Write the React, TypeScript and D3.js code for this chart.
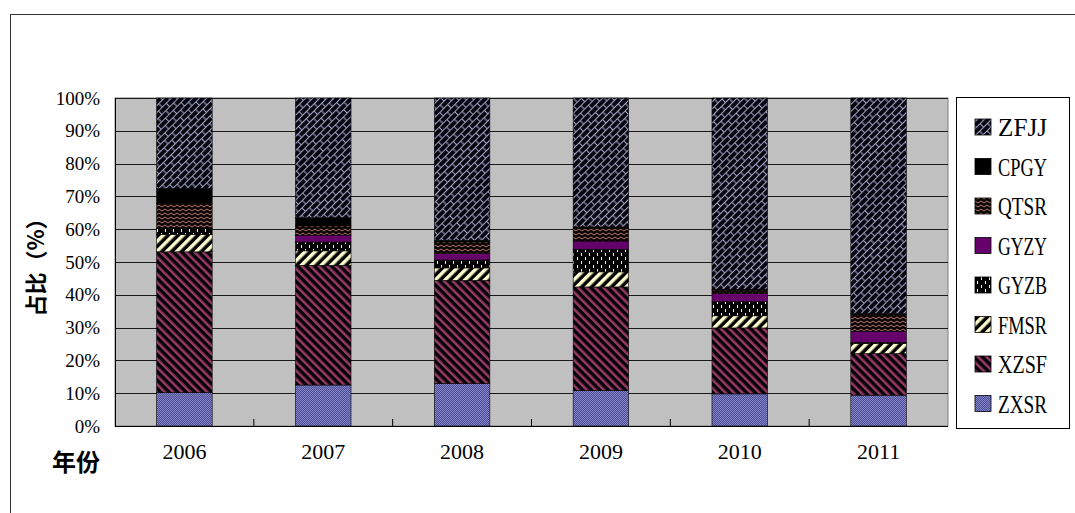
import React from "react";
import * as d3 from "d3";

const years = ["2006", "2007", "2008", "2009", "2010", "2011"];
// stacking order bottom -> top
const seriesNames = ["ZXSR", "XZSF", "FMSR", "GYZB", "GYZY", "QTSR", "CPGY", "ZFJJ"];
const ZXSR = [10.2, 12.5, 12.9, 10.8, 9.8, 9.4];
const XZSF = [42.9, 36.5, 31.5, 31.6, 20.1, 12.7];
const FMSR = [5.3, 4.4, 3.8, 4.6, 3.7, 3.1];
const GYZB = [1.8, 2.7, 2.4, 6.9, 4.3, 0.3];
const GYZY = [0.0, 2.1, 2.0, 2.5, 2.5, 3.4];
const QTSR = [7.6, 2.8, 3.5, 3.8, 1.0, 5.1];
const CPGY = [4.6, 2.5, 0.5, 0.5, 0.3, 0.3];
const ZFJJ = [27.6, 36.5, 43.4, 39.3, 58.3, 65.7];
const yTicks = [0, 10, 20, 30, 40, 50, 60, 70, 80, 90, 100];
const legendOrder = ["ZFJJ", "CPGY", "QTSR", "GYZY", "GYZB", "FMSR", "XZSF", "ZXSR"];

const valuesBySeries: Record<string, number[]> = { ZXSR, XZSF, FMSR, GYZB, GYZY, QTSR, CPGY, ZFJJ };

const W = 1075;
const H = 513;
const plot = { left: 115, right: 948, top: 98, bottom: 426 };

function Patterns() {
  return (
    <defs>
      <pattern id="p-ZFJJ" width="11" height="10" patternUnits="userSpaceOnUse" patternTransform="rotate(-45)">
        <rect width="11" height="10" fill="#05050f" />
        <line x1="0" y1="0.5" x2="11" y2="0.5" stroke="#a0a0c0" strokeWidth="1.1" />
        <line x1="0" y1="5.5" x2="11" y2="5.5" stroke="#a0a0c0" strokeWidth="1.1" />
        <line x1="0.5" y1="0" x2="0.5" y2="5" stroke="#a0a0c0" strokeWidth="1.1" />
        <line x1="6" y1="5" x2="6" y2="10" stroke="#a0a0c0" strokeWidth="1.1" />
      </pattern>
      <pattern id="p-CPGY" width="4" height="4" patternUnits="userSpaceOnUse">
        <rect width="4" height="4" fill="#000000" />
      </pattern>
      <pattern id="p-QTSR" width="6" height="4" patternUnits="userSpaceOnUse">
        <rect width="6" height="4" fill="#0a0505" />
        <polyline points="0,3 3,1 6,3" fill="none" stroke="#b87464" strokeWidth="1" />
      </pattern>
      <pattern id="p-GYZY" width="4" height="4" patternUnits="userSpaceOnUse">
        <rect width="4" height="4" fill="#66006a" />
      </pattern>
      <pattern id="p-GYZB" width="8" height="8" patternUnits="userSpaceOnUse">
        <rect width="8" height="8" fill="#000000" />
        <rect x="1" y="1" width="1" height="3" fill="#e8f0e8" />
        <rect x="5" y="5" width="1" height="3" fill="#e8f0e8" />
      </pattern>
      <pattern id="p-FMSR" width="7" height="7" patternUnits="userSpaceOnUse" patternTransform="rotate(45)">
        <rect width="7" height="7" fill="#000000" />
        <rect x="0" y="0" width="3.5" height="7" fill="#fbfbcf" />
      </pattern>
      <pattern id="p-XZSF" width="6" height="6" patternUnits="userSpaceOnUse" patternTransform="rotate(-45)">
        <rect width="6" height="6" fill="#050005" />
        <rect x="0" y="0" width="2.6" height="6" fill="#943a64" />
      </pattern>
      <pattern id="p-ZXSR" width="2" height="2" patternUnits="userSpaceOnUse">
        <rect width="2" height="2" fill="#4c4c94" />
        <rect x="0" y="0" width="1" height="1" fill="#8484c8" />
        <rect x="1" y="1" width="1" height="1" fill="#8484c8" />
      </pattern>
    </defs>
  );
}

export default function App() {
  const x = d3
    .scaleBand<string>()
    .domain(years)
    .range([plot.left, plot.right])
    .paddingInner(0.6)
    .paddingOuter(0.3);
  const y = d3.scaleLinear().domain([0, 100]).range([plot.bottom, plot.top]);

  const table = years.map((yr, i) => {
    const row: Record<string, number | string> = { year: yr };
    seriesNames.forEach((s) => (row[s] = valuesBySeries[s][i]));
    return row;
  });
  const stacked = d3.stack<Record<string, number | string>>().keys(seriesNames)(table as any);

  const step = x.step();
  const boundaries = years.slice(0, -1).map((yr) => (x(yr) as number) + x.bandwidth() + (step - x.bandwidth()) / 2);

  const legend = { x: 956, y: 97, w: 113, h: 331 };
  const legendY0 = 127;
  const legendStep = 39.5;

  return (
    <svg width={W} height={H} style={{ position: "absolute", left: 0, top: 0, display: "block" }}>
      <Patterns />
      <rect x={0} y={0} width={W} height={H} fill="#ffffff" />
      {/* outer chart border */}
      <line x1={10} y1={14.5} x2={W} y2={14.5} stroke="#333" strokeWidth={1} />
      <line x1={10.5} y1={14} x2={10.5} y2={H} stroke="#333" strokeWidth={1} />

      {/* plot area */}
      <rect
        x={plot.left}
        y={plot.top}
        width={plot.right - plot.left}
        height={plot.bottom - plot.top}
        fill="#c0c0c0"
        stroke="#808080"
        strokeWidth={1}
      />
      {yTicks.map((t) => (
        <line key={"g" + t} x1={plot.left} x2={plot.right} y1={Math.round(y(t)) + 0.5} y2={Math.round(y(t)) + 0.5} stroke="#1a1a1a" strokeWidth={1} />
      ))}

      {/* bars */}
      {stacked.map((layer) => (
        <g key={layer.key}>
          {layer.map((d, i) => {
            const h = y(d[0]) - y(d[1]);
            if (h <= 0) return null;
            return (
              <rect
                key={i}
                x={x(years[i]) as number}
                y={y(d[1])}
                width={x.bandwidth()}
                height={h}
                fill={`url(#p-${layer.key})`}
                stroke="#000"
                strokeWidth={0.6}
              />
            );
          })}
        </g>
      ))}

      {/* axes */}
      <line x1={plot.left + 0.5} x2={plot.left + 0.5} y1={plot.top} y2={plot.bottom} stroke="#000" strokeWidth={1} />
      <line x1={plot.left} x2={plot.right} y1={plot.bottom + 0.5} y2={plot.bottom + 0.5} stroke="#000" strokeWidth={1} />
      {boundaries.map((bx, i) => (
        <line key={"xt" + i} x1={bx} x2={bx} y1={plot.bottom - 7} y2={plot.bottom} stroke="#000" strokeWidth={1} />
      ))}
      {yTicks.map((t) => (
        <text
          key={"yl" + t}
          x={100}
          y={y(t)}
          dy="0.35em"
          textAnchor="end"
          fontFamily="'Liberation Serif', 'Times New Roman', serif"
          fontSize={19}
          fill="#000"
        >
          {t}%
        </text>
      ))}
      {years.map((yr) => (
        <text
          key={"xl" + yr}
          x={(x(yr) as number) + x.bandwidth() / 2}
          y={459}
          textAnchor="middle"
          fontFamily="'Liberation Serif', 'Times New Roman', serif"
          fontSize={22}
          fill="#000"
        >
          {yr}
        </text>
      ))}
      <text x={52} y={471} fontFamily="'Noto Sans CJK SC', sans-serif" fontWeight="bold" fontSize={24} fill="#000">
        年份
      </text>
      <text
        transform={`translate(44, 262) rotate(-90)`}
        textAnchor="middle"
        fontFamily="'Noto Sans CJK SC', sans-serif"
        fontWeight="bold"
        fontSize={22}
        fill="#000"
      >
        占比（%）
      </text>

      {/* legend */}
      <rect x={legend.x + 0.5} y={legend.y + 0.5} width={legend.w} height={legend.h} fill="#fff" stroke="#000" strokeWidth={1} />
      {legendOrder.map((s, i) => {
        const cy = legendY0 + i * legendStep;
        return (
          <g key={"lg" + s}>
            <rect x={975} y={cy - 8} width={16} height={16} fill={`url(#p-${s})`} stroke="#000" strokeWidth={0.8} />
            <text
              x={998}
              y={cy}
              dy="0.35em"
              fontFamily="'Liberation Serif', 'Times New Roman', serif"
              fontSize={26}
              textLength={49}
              lengthAdjust="spacingAndGlyphs"
              fill="#000"
            >
              {s}
            </text>
          </g>
        );
      })}
    </svg>
  );
}
